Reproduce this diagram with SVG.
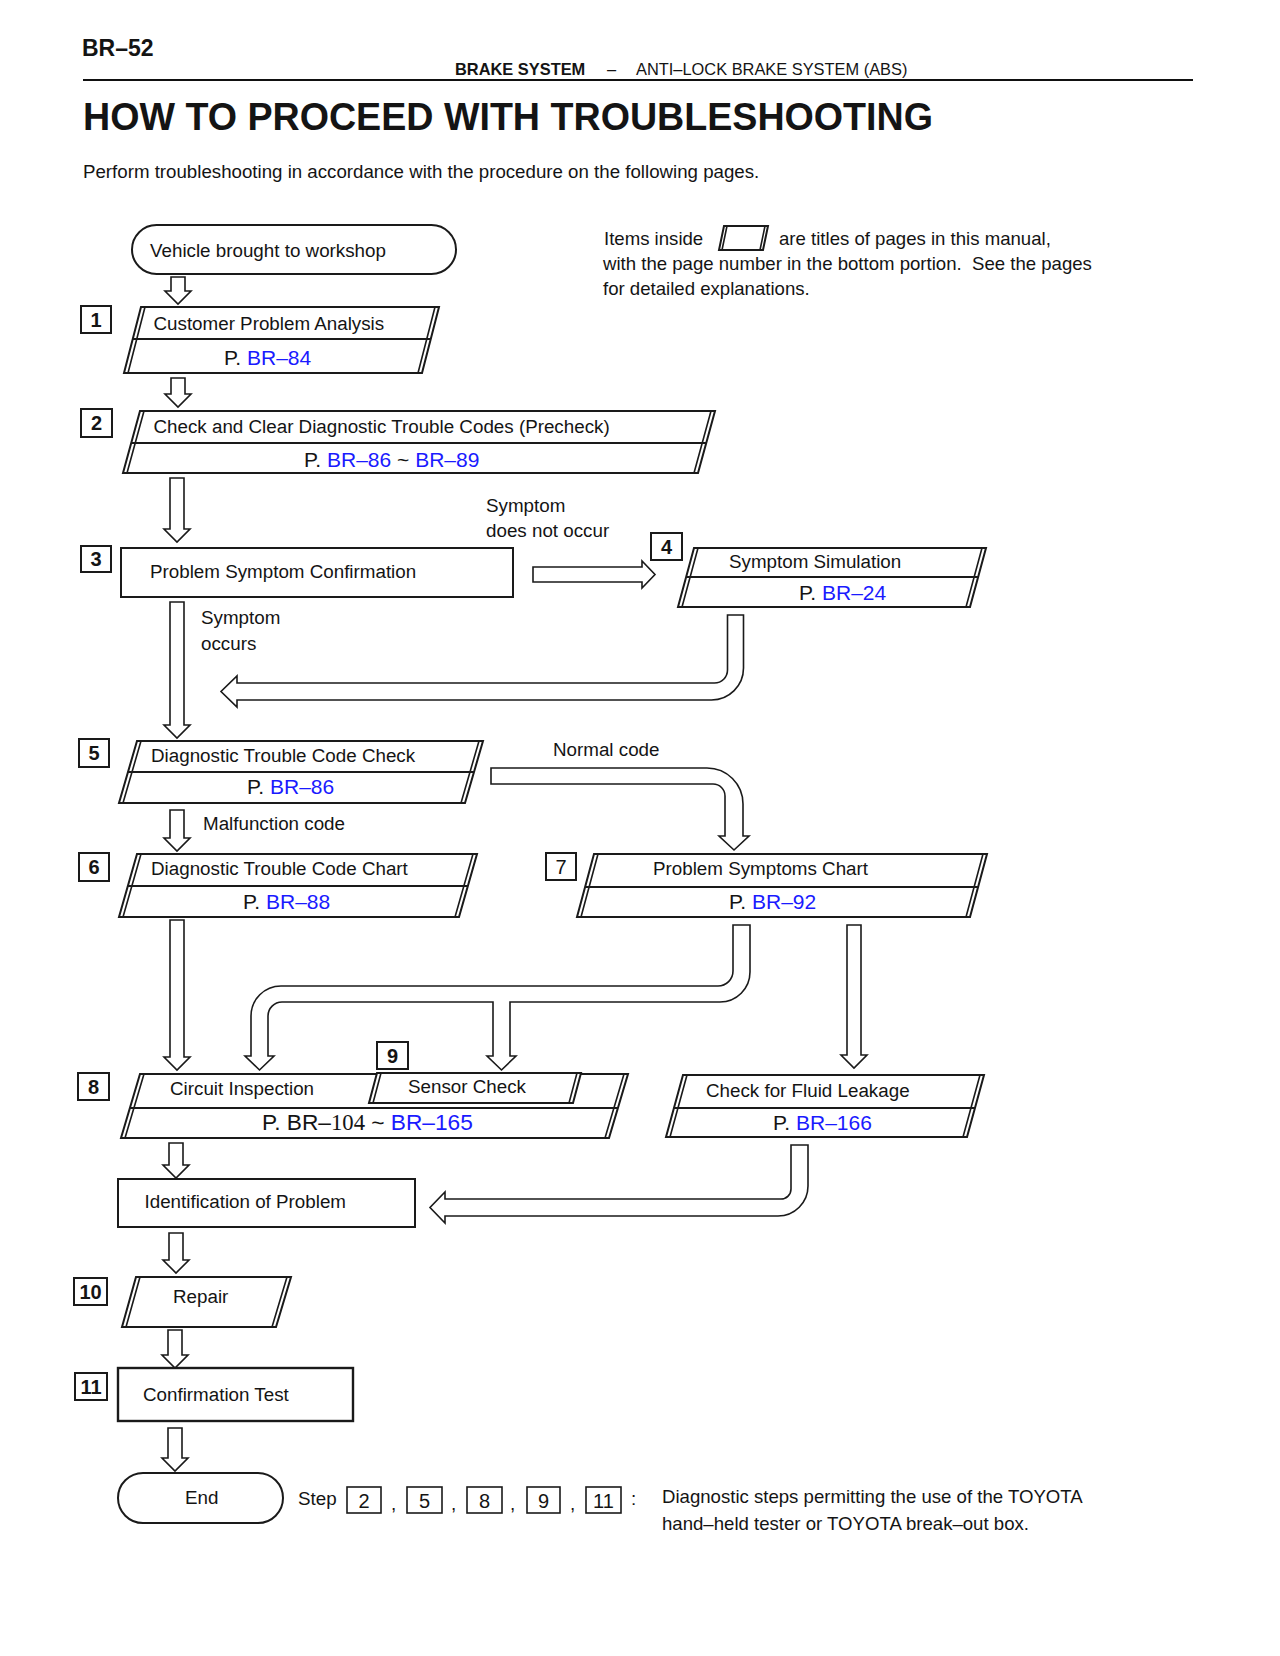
<svg xmlns="http://www.w3.org/2000/svg" width="1280" height="1656" viewBox="0 0 1280 1656">
<style>
text{font-family:"Liberation Sans",Arial,Helvetica,sans-serif;fill:#141414}
.t{font-size:18.8px}
.pg{font-size:21px}
.bl{fill:#1a1aff}
.num{font-size:20px;font-weight:bold;text-anchor:middle}
.numl{font-size:20px;text-anchor:middle}
.sh{fill:#fff;stroke:#1a1a1a;stroke-width:2;stroke-linejoin:miter}
.ln{fill:none;stroke:#1a1a1a;stroke-width:1.6}
.dv{fill:none;stroke:#1a1a1a;stroke-width:2.2}
.sq{fill:#fff;stroke:#1a1a1a;stroke-width:2}
.ar{fill:#fff;stroke:#1a1a1a;stroke-width:1.6;stroke-linejoin:miter}
.note{font-size:18.6px}
</style>
<rect x="0" y="0" width="1280" height="1656" fill="#fff"/>

<g id="header">
<text x="82" y="56" style="font-size:23px;font-weight:bold">BR–52</text>
<text x="455" y="75" style="font-size:16.4px;font-weight:bold">BRAKE SYSTEM</text>
<text x="607" y="75" style="font-size:16.4px">–</text>
<text x="636" y="75" style="font-size:16.4px">ANTI–LOCK BRAKE SYSTEM (ABS)</text>
<path d="M83,80 H1193" stroke="#111" stroke-width="2.2" fill="none"/>
<text x="83" y="130" style="font-size:38px;font-weight:bold" textLength="850" lengthAdjust="spacingAndGlyphs">HOW TO PROCEED WITH TROUBLESHOOTING</text>
<text x="83" y="178" style="font-size:18.7px">Perform troubleshooting in accordance with the procedure on the following pages.</text>
</g>

<g id="legend">
<text class="note" x="604" y="245">Items inside</text>
<path class="sh" d="M724,226 L768,226 L763,250 L719,250 Z"/>
<path class="ln" d="M727,226 L722,250 M765,226 L760,250"/>
<text class="note" x="779" y="245">are titles of pages in this manual,</text>
<text class="note" x="603" y="270" xml:space="preserve">with the page number in the bottom portion.  See the pages</text>
<text class="note" x="603" y="295">for detailed explanations.</text>
</g>

<g id="connectors">
<path class="ar" d="M171,277 H185 V291 H191 L178,304 L165,291 H171 Z"/>
<path class="ar" d="M171,378 H185 V394 H191 L178,407 L165,394 H171 Z"/>
<path class="ar" d="M170,478 H184 V529 H190 L177,542 L164,529 H170 Z"/>
<path class="ar" d="M170,602 H184 V725 H190 L177,738 L164,725 H170 Z"/>
<path class="ar" d="M533,567 H642 V561 L655,574.5 L642,588 V582 H533 Z"/>
<path class="ar" d="M727.5,615 L743.5,615 L743.5,668 A32,32 0 0 1 711.5,700 L237,700 L237,707 L221,691.5 L237,676 L237,683 L714.5,683 A13,13 0 0 0 727.5,670 Z"/>
<path class="ar" d="M170,810 H184 V838 H190 L177,851 L164,838 H170 Z"/>
<path class="ar" d="M491,768 L707,768 A36,36 0 0 1 743,804 L743,836 L749,836 L734,850 L719,836 L725,836 L725,796 A12,12 0 0 0 713,784 L491,784 Z"/>
<path class="ar" d="M170,920 H184 V1057 H190 L177,1070 L164,1057 H170 Z"/>
<path class="ar" d="M733,925 L750,925 L750,972 A30,30 0 0 1 720,1002 L510,1002 L510,1056 L516,1056 L501.5,1070 L487,1056 L493,1056 L493,1002 L282,1002 A14,14 0 0 0 268,1016 L268,1056 L274,1056 L259.5,1070 L245,1056 L251,1056 L251,1016 A30,30 0 0 1 281,986 L718,986 A15,15 0 0 0 733,971 Z"/>
<path class="ar" d="M847,925 H861 V1055 H867 L854,1068 L841,1055 H847 Z"/>
<path class="ar" d="M169,1143 H183 V1165 H189 L176,1178 L163,1165 H169 Z"/>
<path class="ar" d="M791,1145 L808,1145 L808,1186 A30,30 0 0 1 778,1216 L445,1216 L445,1223 L430,1207.5 L445,1192 L445,1199 L781,1199 A10,10 0 0 0 791,1189 Z"/>
<path class="ar" d="M169,1233 H183 V1260 H189 L176,1273 L163,1260 H169 Z"/>
<path class="ar" d="M168,1330 H182 V1355 H188 L175,1368 L162,1355 H168 Z"/>
<path class="ar" d="M168,1428 H182 V1458 H188 L175,1471 L162,1458 H168 Z"/>
<text class="t" x="486" y="512">Symptom</text>
<text class="t" x="486" y="537">does not occur</text>
<text class="t" x="201" y="624">Symptom</text>
<text class="t" x="201" y="650">occurs</text>
<text class="t" x="553" y="756">Normal code</text>
<text class="t" x="203" y="830">Malfunction code</text>
</g>

<g id="node-start">
<rect class="sh" x="132" y="225" width="324" height="49" rx="24.5"/>
<text class="t" x="150" y="257">Vehicle brought to workshop</text>
</g>

<g id="node-1">
<rect class="sq" x="81" y="306" width="30" height="27"/>
<text class="num" x="96" y="327">1</text>
<path class="sh" d="M141,307 L439,307 L422,373 L124,373 Z"/>
<path class="ln" d="M145,307 L128,373 M435,307 L418,373"/>
<path class="dv" d="M133,339 L431,339"/>
<text class="t" x="153.5" y="330">Customer Problem Analysis</text>
<text class="pg" x="224" y="365">P. <tspan class="bl">BR–84</tspan></text>
</g>

<g id="node-2">
<rect class="sq" x="81" y="409" width="31" height="28"/>
<text class="num" x="96.5" y="430">2</text>
<path class="sh" d="M140,411 L715,411 L698,473 L123,473 Z"/>
<path class="ln" d="M144,411 L127,473 M711,411 L694,473"/>
<path class="dv" d="M131,443 L706,443"/>
<text class="t" x="153.5" y="433">Check and Clear Diagnostic Trouble Codes (Precheck)</text>
<text class="pg" x="304" y="467">P. <tspan class="bl">BR–86</tspan> ~ <tspan class="bl">BR–89</tspan></text>
</g>

<g id="node-3">
<rect class="sq" x="81" y="546" width="30" height="26"/>
<text class="num" x="96" y="566">3</text>
<rect class="sh" x="121" y="548" width="392" height="49"/>
<text class="t" x="150" y="578">Problem Symptom Confirmation</text>
</g>

<g id="node-4">
<rect class="sq" x="651" y="533" width="31" height="27"/>
<text class="num" x="666.5" y="554">4</text>
<path class="sh" d="M694,548 L986,548 L970,607 L678,607 Z"/>
<path class="ln" d="M698,548 L682,607 M982,548 L966,607"/>
<path class="dv" d="M686,577 L978,577"/>
<text class="t" x="729" y="568">Symptom Simulation</text>
<text class="pg" x="799" y="600">P. <tspan class="bl">BR–24</tspan></text>
</g>

<g id="node-5">
<rect class="sq" x="79" y="739" width="30" height="28"/>
<text class="num" x="94" y="760">5</text>
<path class="sh" d="M137,741 L483,741 L465,803 L119,803 Z"/>
<path class="ln" d="M141,741 L123,803 M479,741 L461,803"/>
<path class="dv" d="M128,772 L474,772"/>
<text class="t" x="151" y="762">Diagnostic Trouble Code Check</text>
<text class="pg" x="247" y="794">P. <tspan class="bl">BR–86</tspan></text>
</g>

<g id="node-6">
<rect class="sq" x="79" y="853" width="30" height="28"/>
<text class="num" x="94" y="874">6</text>
<path class="sh" d="M137,854 L477,854 L459,917 L119,917 Z"/>
<path class="ln" d="M141,854 L123,917 M473,854 L455,917"/>
<path class="dv" d="M128,886 L468,886"/>
<text class="t" x="151" y="875">Diagnostic Trouble Code Chart</text>
<text class="pg" x="243" y="909">P. <tspan class="bl">BR–88</tspan></text>
</g>

<g id="node-7">
<rect class="sq" x="546" y="853" width="30" height="27"/>
<text class="numl" x="561" y="874">7</text>
<path class="sh" d="M594,854 L987,854 L970,917 L577,917 Z"/>
<path class="ln" d="M598,854 L581,917 M983,854 L966,917"/>
<path class="dv" d="M585,887 L978,887"/>
<text class="t" x="653" y="875">Problem Symptoms Chart</text>
<text class="pg" x="729" y="909">P. <tspan class="bl">BR–92</tspan></text>
</g>

<g id="node-8">
<rect class="sq" x="78" y="1073" width="31" height="27"/>
<text class="num" x="93.5" y="1094">8</text>
<path class="sh" d="M140,1074 L628,1074 L609,1138 L121,1138 Z"/>
<path class="ln" d="M144,1074 L125,1138 M624,1074 L605,1138"/>
<path class="dv" d="M130,1108 L618,1108"/>
<text class="t" x="170" y="1095">Circuit Inspection</text>
<text x="262" y="1130" style="font-size:22.7px">P. BR–<tspan style="font-family:'Liberation Serif','Times New Roman',serif">104</tspan> ~ <tspan class="bl">BR–165</tspan></text>
</g>

<g id="node-9">
<rect class="sq" x="377" y="1042" width="31" height="27"/>
<text class="num" x="392.5" y="1063">9</text>
<path class="sh" d="M377,1073 L581,1073 L573,1103 L369,1103 Z"/>
<path class="ln" d="M381,1073 L373,1103 M577,1073 L569,1103"/>
<text class="t" x="408" y="1093">Sensor Check</text>
</g>

<g id="node-fluid">
<path class="sh" d="M683,1075 L984,1075 L967,1137 L666,1137 Z"/>
<path class="ln" d="M687,1075 L670,1137 M980,1075 L963,1137"/>
<path class="dv" d="M674,1108 L975,1108"/>
<text class="t" x="706" y="1097">Check for Fluid Leakage</text>
<text class="pg" x="773" y="1130">P. <tspan class="bl">BR–166</tspan></text>
</g>

<g id="node-ident">
<rect class="sh" x="118" y="1179" width="297" height="48"/>
<text class="t" x="144.5" y="1208">Identification of Problem</text>
</g>

<g id="node-10">
<rect class="sq" x="74" y="1278" width="33" height="27"/>
<text class="num" x="90.5" y="1299">10</text>
<path class="sh" d="M136,1277 L291,1277 L276,1327 L122,1327 Z"/>
<path class="ln" d="M140,1277 L126,1327 M287,1277 L272,1327"/>
<text class="t" x="173" y="1303">Repair</text>
</g>

<g id="node-11">
<rect class="sq" x="75" y="1373" width="32" height="27"/>
<text class="num" x="91" y="1394">11</text>
<rect class="sh" x="118" y="1368" width="235" height="53" style="stroke-width:2.4"/>
<text class="t" x="143" y="1401">Confirmation Test</text>
</g>

<g id="node-end">
<rect class="sh" x="118" y="1473" width="165" height="50" rx="25"/>
<text class="t" x="185" y="1504">End</text>
</g>

<g id="footnote">
<text class="t" x="298" y="1505">Step</text>
<rect class="sq" x="347" y="1487" width="34" height="26" style="stroke-width:1.6"/>
<text class="numl" x="364" y="1508">2</text>
<text class="t" x="391" y="1510">,</text>
<rect class="sq" x="407" y="1487" width="35" height="26" style="stroke-width:1.6"/>
<text class="numl" x="424.5" y="1508">5</text>
<text class="t" x="451" y="1510">,</text>
<rect class="sq" x="467" y="1487" width="35" height="26" style="stroke-width:1.6"/>
<text class="numl" x="484.5" y="1508">8</text>
<text class="t" x="510" y="1510">,</text>
<rect class="sq" x="527" y="1487" width="33" height="26" style="stroke-width:1.6"/>
<text class="numl" x="543.5" y="1508">9</text>
<text class="t" x="570" y="1510">,</text>
<rect class="sq" x="586" y="1487" width="35" height="26" style="stroke-width:1.6"/>
<text class="numl" x="603.5" y="1508">11</text>
<text class="t" x="631" y="1505">:</text>
<text class="note" x="662" y="1503">Diagnostic steps permitting the use of the TOYOTA</text>
<text class="note" x="662" y="1530">hand–held tester or TOYOTA break–out box.</text>
</g>
</svg>
